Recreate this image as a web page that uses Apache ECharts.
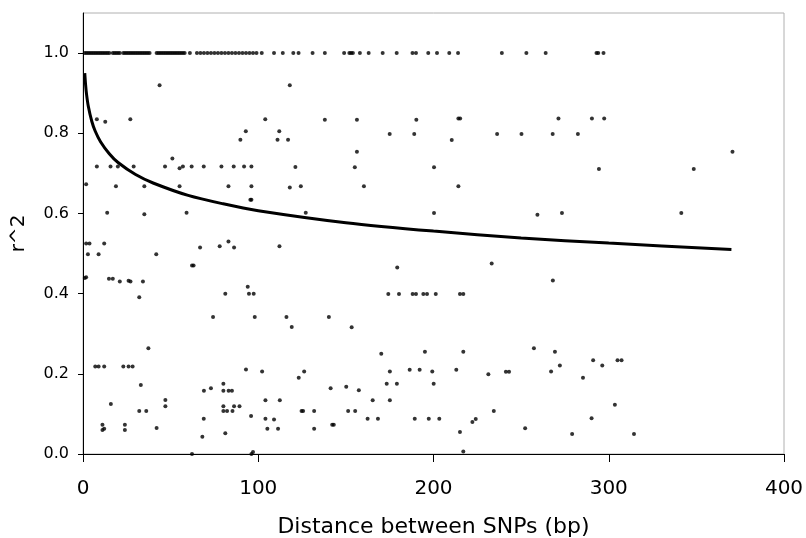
<!DOCTYPE html>
<html>
<head>
<meta charset="utf-8">
<script src="https://cdn.jsdelivr.net/npm/echarts@6/dist/echarts.min.js"></script>
<style>html,body{margin:0;padding:0;background:#fff;}#c{width:806px;height:538px;}</style>
</head>
<body>
<div id="c"></div>
<script>
// Distances (bp) of SNP pairs with r^2 = 1.0
const xAtOne = [1,2,3,4,5,6,7,8,9,10,11,12,13,14,15,17,18,19,20,21,23,24,25,26,27,28,29,30,31,32,33,34,35,36,37,38,42,43,44,45,46,47,48,49,50,51,52,53,54,55,56,57,58,61,65,67,69,71,73,75,77,79,81,83,85,87,89,91,93,95,97,99,102,109,114,120,123,131,138,149,152,153,154,158,163,171,179,188,190,197,202,209,214,239,253,264,293,294,297];

// Other SNP pairs: [distance, r^2]
const otherPairs = [
[43.7,0.92],[118,0.92],
[7.9,0.835],[12.7,0.829],[27,0.835],[104,0.835],[138,0.834],[156.3,0.834],[190.2,0.834],[214.2,0.837],[215.2,0.837],[271.3,0.837],[290.4,0.837],[297.4,0.837],
[92.9,0.805],[112,0.805],[89.8,0.784],[111,0.784],[117,0.784],[175,0.798],[189,0.798],[236.3,0.798],[250.2,0.798],[268,0.798],[282.4,0.798],[210.4,0.783],
[156.3,0.754],[370.6,0.754],[51,0.737],
[7.9,0.717],[15.7,0.717],[19.9,0.717],[28.9,0.717],[46.8,0.717],[55.1,0.713],[57,0.717],[62,0.717],[68.9,0.717],[79,0.717],[86,0.717],[91.9,0.717],[96.1,0.717],[121.2,0.716],[155.1,0.715],[200.3,0.715],[294.4,0.711],[348.5,0.711],
[1.8,0.673],[18.8,0.668],[35,0.668],[55.1,0.668],[83,0.668],[96.1,0.668],[118,0.665],[124.3,0.668],[160.3,0.668],[214.2,0.668],
[95.5,0.634],[96.1,0.634],
[13.8,0.602],[35,0.598],[59.1,0.602],[127.1,0.602],[200.3,0.601],[259.3,0.597],[273.3,0.601],[341.4,0.601],
[1.8,0.525],[3.7,0.525],[12.1,0.525],[83,0.53],[78,0.518],[86.2,0.515],[66.8,0.515],[112.1,0.518],
[2.8,0.498],[8.9,0.498],[41.8,0.498],
[62.2,0.47],[63.1,0.47],[179.3,0.465],[233.2,0.475],
[1.0,0.439],[1.8,0.441],[14.8,0.437],[17,0.437],[21,0.43],[26,0.432],[27.1,0.43],[34.2,0.43],[268.1,0.433],
[94,0.417],[94.7,0.4],[97.4,0.4],[81.2,0.4],[174.2,0.399],[180.3,0.399],[188.1,0.399],[190,0.399],[194.2,0.399],[196.3,0.399],[201.3,0.399],[215.1,0.399],[217,0.399],
[32.1,0.391],
[74.2,0.342],[98,0.342],[116.1,0.342],[140.3,0.342],[119.1,0.317],[153.3,0.316],
[37.3,0.264],[170.2,0.25],[195.1,0.255],[217,0.255],[257.3,0.264],[269.3,0.255],
[291.1,0.234],[305,0.234],[307.3,0.234],[272.1,0.221],[296.3,0.221],
[7,0.218],[8.9,0.218],[12.1,0.218],[23,0.218],[26,0.218],[28.3,0.218],
[93,0.211],[102.2,0.206],[126.2,0.206],[175.1,0.206],[186.4,0.21],[192.1,0.21],[199.3,0.206],[213,0.21],[241.3,0.205],[243.1,0.205],[267.1,0.206],
[231.3,0.199],[123.1,0.19],[285.3,0.19],
[33,0.172],[80.1,0.175],[173.3,0.175],[179.1,0.175],[200.1,0.175],[150.2,0.168],[141.3,0.164],[73,0.164],[157.4,0.159],
[69,0.158],[80.1,0.158],[83.1,0.158],[85,0.158],
[47,0.135],[104.1,0.134],[112.3,0.134],[165.3,0.134],[175.1,0.134],
[15.9,0.125],[303.5,0.123],
[47,0.119],[80.1,0.119],[86.2,0.119],[89.3,0.119],
[32.1,0.107],[36.1,0.107],[80.1,0.107],[82.2,0.107],[85.3,0.107],[124.7,0.107],[125.6,0.107],[131.9,0.107],[151.3,0.107],[155.3,0.107],[234.4,0.107],
[95.9,0.095],[68.9,0.088],[104.1,0.088],[109,0.086],[162.4,0.088],[168.3,0.088],[189.3,0.088],[197.3,0.088],[203.3,0.088],[224.1,0.087],[222.2,0.08],[290.2,0.089],
[11.1,0.073],[23.9,0.073],[142.2,0.073],[143.1,0.073],
[11.1,0.06],[12.1,0.063],[23.9,0.06],[42,0.065],[105.2,0.063],[111.3,0.063],[131.9,0.063],[252.3,0.064],
[81.2,0.052],[215.1,0.055],[279.1,0.05],[314.4,0.05],[68.1,0.043],
[62.2,0.0],[96.1,0.0],[97,0.005],[217,0.006]
];

// Trend curve
const trendX = [1,1.5,2,3,5,7,10,15,20,30,40,60,80,100,150,200,250,300,370];
const trendY = [0.95,0.92,0.898,0.868,0.830,0.805,0.779,0.749,0.727,0.697,0.676,0.645,0.624,0.607,0.577,0.556,0.539,0.526,0.510];

const yTicks = [0,0.2,0.4,0.6,0.8,1.0];
const xTicks = [0,100,200,300,400];

const scatterData = xAtOne.map(x => [x, 1.0]).concat(otherPairs);
const trendData = trendX.map((x, i) => [x, trendY[i]]);

const font = 'DejaVu Sans';
const chart = echarts.init(document.getElementById('c'), null, {renderer: 'canvas'});
chart.setOption({
  animation: false,
  backgroundColor: '#fff',
  grid: {left: 83, right: 22, top: 13, bottom: 84, show: true, borderColor: '#b0b0b0', borderWidth: 1,
         backgroundColor: 'transparent', containLabel: false, outerBoundsMode: 'none'},
  xAxis: {
    type: 'value', min: 0, max: 400, interval: 100,
    name: 'Distance between SNPs (bp)', nameLocation: 'middle', nameGap: 62,
    nameTextStyle: {fontFamily: font, fontSize: 22, color: '#000'},
    axisLine: {onZero: false, lineStyle: {color: '#000', width: 1}},
    axisTick: {show: true, length: 8, lineStyle: {color: '#000'}, customValues: xTicks},
    axisLabel: {fontFamily: font, fontSize: 20, color: '#000', margin: 25, customValues: xTicks},
    splitLine: {show: false}
  },
  yAxis: {
    type: 'value', min: 0, max: 1.1, interval: 0.2,
    name: 'r^2', nameLocation: 'middle', nameGap: 54, nameRotate: 90,
    nameTextStyle: {fontFamily: font, fontSize: 20, color: '#000'},
    axisLine: {onZero: false, show: true, lineStyle: {color: '#000', width: 1}},
    axisTick: {show: true, length: 5, lineStyle: {color: '#000'}, customValues: yTicks},
    axisLabel: {fontFamily: font, fontSize: 16, color: '#000', margin: 14, customValues: yTicks,
      formatter: v => v.toFixed(1)},
    splitLine: {show: false}
  },
  series: [
    {type: 'scatter', data: scatterData, symbol: 'circle', symbolSize: 4,
     itemStyle: {color: '#000'}, z: 2},
    {type: 'line', data: trendData, smooth: 0.3, showSymbol: false,
     lineStyle: {color: '#000', width: 3}, z: 3}
  ]
});
</script>
</body>
</html>
